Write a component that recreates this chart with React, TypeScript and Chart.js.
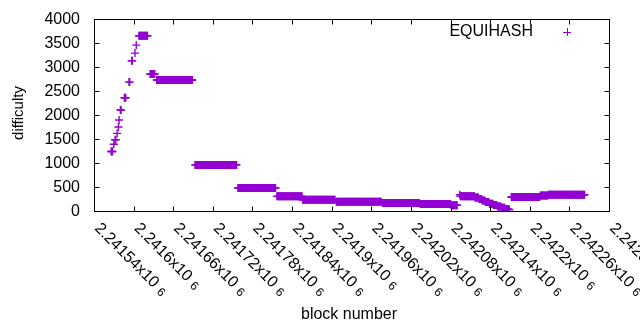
import { useEffect, useRef } from "react";
import { Chart, registerables } from "chart.js";

Chart.register(...registerables);

// Runs of constant difficulty: first block, last block, difficulty
const runStart = [
  2241566, 2241570, 2241572, 2241575, 2241577, 2241578, 2241580, 2241586, 2241593, 2241597,
  2241602, 2241604, 2241608, 2241625, 2241635, 2241693, 2241758, 2241817, 2241856, 2241907,
  2241977, 2242034, 2242081, 2242094, 2242095, 2242117, 2242123, 2242128, 2242133, 2242139,
  2242145, 2242151, 2242157, 2242163, 2242169, 2242172, 2242216, 2242228,
];
const runEnd = [
  2241568, 2241570, 2241573, 2241575, 2241577, 2241578, 2241581, 2241588, 2241594, 2241598,
  2241602, 2241604, 2241621, 2241632, 2241689, 2241756, 2241815, 2241855, 2241905, 2241975,
  2242033, 2242080, 2242090, 2242094, 2242116, 2242122, 2242127, 2242132, 2242138, 2242144,
  2242150, 2242156, 2242162, 2242168, 2242169, 2242215, 2242227, 2242283,
];
const runDifficulty = [
  1240, 1390, 1485, 1617, 1750, 1896, 2105, 2360, 2685, 3130,
  3290, 3455, 3650, 2855, 2730, 960, 480, 305, 235, 195,
  167, 146, 120, 340, 305, 280, 250, 220, 185, 150,
  125, 95, 70, 40, 25, 292, 325, 340,
];

const xTickValues = [
  2241540, 2241600, 2241660, 2241720, 2241780, 2241840, 2241900,
  2241960, 2242020, 2242080, 2242140, 2242200, 2242260, 2242320,
];
const xTickMantissas = [
  "2.24154", "2.2416", "2.24166", "2.24172", "2.24178", "2.24184", "2.2419",
  "2.24196", "2.24202", "2.24208", "2.24214", "2.2422", "2.24226", "2.24232",
];
const yTickValues = [0, 500, 1000, 1500, 2000, 2500, 3000, 3500, 4000];
const seriesName = "EQUIHASH";
const xTitle = "block number";
const yTitle = "difficulty";

const COLOR = "#9400d3";
const FONT = '"Liberation Sans", Arial, sans-serif';

function buildPoints() {
  const pts: { x: number; y: number }[] = [];
  for (let i = 0; i < runStart.length; i++) {
    for (let b = runStart[i]; b <= runEnd[i]; b++) {
      pts.push({ x: b, y: runDifficulty[i] });
    }
  }
  return pts;
}

const gnuplotFrame = {
  id: "gnuplotFrame",
  afterDraw(chart: any) {
    const ctx = chart.ctx as CanvasRenderingContext2D;
    const ca = chart.chartArea;
    const xs = chart.scales.x;
    const ys = chart.scales.y;
    const L = Math.round(ca.left) + 0.5;
    const R = Math.round(ca.right) + 0.5;
    const T = Math.round(ca.top) + 0.5;
    const B = Math.round(ca.bottom) + 0.5;
    ctx.save();
    ctx.strokeStyle = "#000";
    ctx.lineWidth = 1;
    ctx.beginPath();
    yTickValues.forEach((v) => {
      const y = Math.round(ys.getPixelForValue(v)) + 0.5;
      ctx.moveTo(L, y);
      ctx.lineTo(L + 5, y);
      ctx.moveTo(R, y);
      ctx.lineTo(R - 5, y);
    });
    xTickValues.forEach((v) => {
      const x = Math.round(xs.getPixelForValue(v)) + 0.5;
      ctx.moveTo(x, B);
      ctx.lineTo(x, B - 5);
      ctx.moveTo(x, T);
      ctx.lineTo(x, T + 5);
    });
    ctx.stroke();
    ctx.strokeRect(L, T, R - L, B - T);

    ctx.fillStyle = "#000";
    ctx.font = `16px ${FONT}`;
    ctx.textAlign = "right";
    ctx.textBaseline = "middle";
    yTickValues.forEach((v) => {
      const y = ys.getPixelForValue(v);
      ctx.fillText(String(v), 80, y + 1);
    });

    xTickValues.forEach((v, i) => {
      const x = xs.getPixelForValue(v);
      ctx.save();
      ctx.translate(x + 3, 226);
      ctx.rotate(Math.PI / 4);
      ctx.textAlign = "left";
      ctx.textBaseline = "middle";
      ctx.font = `16px ${FONT}`;
      const main = xTickMantissas[i] + "x10";
      ctx.fillText(main, 0, 0);
      const w = ctx.measureText(main).width;
      ctx.font = `12px ${FONT}`;
      ctx.fillText("6", w + 5, 2);
      ctx.restore();
    });

    ctx.font = `16px ${FONT}`;
    ctx.textAlign = "center";
    ctx.textBaseline = "middle";
    ctx.fillText(xTitle, 349, 315);

    ctx.save();
    ctx.translate(19, 113);
    ctx.rotate(-Math.PI / 2);
    ctx.font = `15px ${FONT}`;
    ctx.fillText(yTitle, 0, 0);
    ctx.restore();

    ctx.font = `16px ${FONT}`;
    ctx.textAlign = "right";
    ctx.fillText(seriesName, 533, 32);
    ctx.strokeStyle = COLOR;
    ctx.beginPath();
    ctx.moveTo(563, 32.5);
    ctx.lineTo(571, 32.5);
    ctx.moveTo(567.5, 28);
    ctx.lineTo(567.5, 36);
    ctx.stroke();
    ctx.restore();
  },
};

export default function App() {
  const ref = useRef<HTMLCanvasElement | null>(null);
  useEffect(() => {
    if (!ref.current) return;
    const chart = new Chart(ref.current, {
      type: "scatter",
      data: {
        datasets: [
          {
            label: seriesName,
            data: buildPoints(),
            pointStyle: "cross",
            pointRadius: 4,
            pointBorderWidth: 1.4,
            borderColor: COLOR,
            backgroundColor: COLOR,
          },
        ],
      },
      options: {
        animation: false,
        responsive: false,
        devicePixelRatio: 1,
        layout: { padding: { left: 94, right: 31, top: 19, bottom: 119 } },
        plugins: { legend: { display: false }, tooltip: { enabled: false } },
        events: [],
        scales: {
          x: { type: "linear", display: false, min: 2241540, max: 2242320 },
          y: { type: "linear", display: false, min: 0, max: 4000 },
        },
      },
      plugins: [gnuplotFrame],
    });
    return () => chart.destroy();
  }, []);
  return (
    <div style={{ position: "fixed", left: 0, top: 0, width: 640, height: 330, background: "#fff" }}>
      <canvas ref={ref} width={640} height={330} />
    </div>
  );
}
